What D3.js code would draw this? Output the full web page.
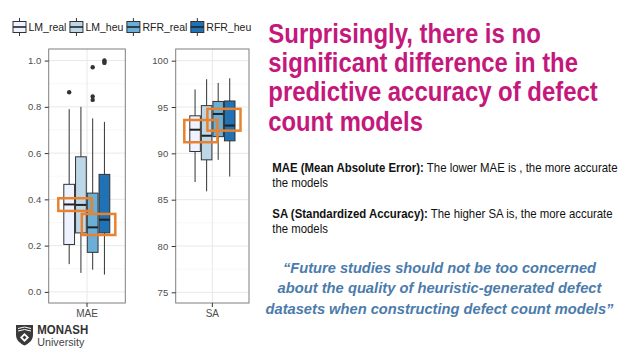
<!DOCTYPE html>
<html>
<head>
<meta charset="utf-8">
<script src="https://cdn.jsdelivr.net/npm/d3@7"></script>
<style>
  html, body { margin: 0; padding: 0; background: #fff; }
  svg { display: block; }
</style>
</head>
<body>
<div id="chart"></div>
<script>
// --- data ---
const models = ["LM_real", "LM_heu", "RFR_real", "RFR_heu"];
const boxColors = ["#eff3ff", "#bdd7e7", "#6baed6", "#2171b5"];

// [lower whisker, q1, median, q3, upper whisker]
const maeStats = [
  [0.12, 0.205, 0.378, 0.465, 0.79],
  [0.082, 0.255, 0.376, 0.584, 0.80],
  [0.096, 0.171, 0.279, 0.427, 0.75],
  [0.075, 0.255, 0.312, 0.508, 0.735]
];
const maeOutliers = [[0.863], [], [0.971, 0.845, 0.83], [1.0, 0.99, 0.995]];
const maeTicks = [0.0, 0.2, 0.4, 0.6, 0.8, 1.0];

const saStats = [
  [86.9, 90.2, 92.55, 94.05, 96.9],
  [85.9, 89.3, 91.9, 95.15, 98.0],
  [89.3, 91.8, 94.25, 95.6, 97.6],
  [87.5, 91.35, 93.0, 95.65, 98.1]
];
const saOutliers = [[], [], [], []];
const saTicks = [75, 80, 85, 90, 95, 100];

// orange highlight boxes: series span + value range
const maeHighlights = [
  { from: "LM_real", to: "LM_heu", lo: 0.35, hi: 0.405 },
  { from: "RFR_real", to: "RFR_heu", lo: 0.246, hi: 0.337 }
];
const saHighlights = [
  { from: "LM_real", to: "LM_heu", lo: 91.2, hi: 93.6 },
  { from: "RFR_real", to: "RFR_heu", lo: 92.45, hi: 94.8 }
];

const titleLines = [
  "Surprisingly, there is no",
  "significant difference in the",
  "predictive accuracy of defect",
  "count models"
];
const quoteLines = [
  "\u201CFuture studies should not be too concerned",
  "about the quality of heuristic-generated defect",
  "datasets when constructing defect count models\u201D"
];

// --- drawing ---
const W = 638, H = 359;
const svg = d3.select("#chart").append("svg")
  .attr("width", W).attr("height", H)
  .style("font-family", "'Liberation Sans', Arial, sans-serif");
svg.append("rect").attr("width", W).attr("height", H).attr("fill", "#fff");

// squeeze a text to a given width (the slide uses a narrow face)
const fit = (sel, w) => {
  const len = sel.node().getComputedTextLength();
  const x = +sel.attr("x");
  sel.attr("transform", `translate(${x},0) scale(${w / len},1) translate(${-x},0)`);
};

const drawPanel = (cfg) => {
  const { left, right, top, bottom, domain, stats, outliers, ticks, label, band, highlights, fmt } = cfg;
  const y = d3.scaleLinear().domain(domain).range([bottom, top]);
  const x = d3.scaleBand().domain(models).range(band);
  const cx = (left + right) / 2;
  const g = svg.append("g");

  // minor grid
  const minor = d3.pairs(ticks).map(([a, b]) => (a + b) / 2);
  g.selectAll(".minor").data(minor).enter().append("line")
    .attr("x1", left).attr("x2", right)
    .attr("y1", d => y(d)).attr("y2", d => y(d))
    .attr("stroke", "#f2f2f2").attr("stroke-width", 0.6);
  g.selectAll(".major").data(ticks).enter().append("line")
    .attr("x1", left).attr("x2", right)
    .attr("y1", d => y(d)).attr("y2", d => y(d))
    .attr("stroke", "#e8e8e8").attr("stroke-width", 1);
  g.append("line").attr("x1", cx).attr("x2", cx).attr("y1", top).attr("y2", bottom)
    .attr("stroke", "#e8e8e8").attr("stroke-width", 1);

  // boxes
  const boxes = g.selectAll(".box").data(stats).enter().append("g");
  boxes.append("line")
    .attr("x1", (d, i) => x(models[i]) + x.bandwidth() / 2)
    .attr("x2", (d, i) => x(models[i]) + x.bandwidth() / 2)
    .attr("y1", d => y(d[0])).attr("y2", d => y(d[4]))
    .attr("stroke", "#333").attr("stroke-width", 1);
  boxes.append("rect")
    .attr("x", (d, i) => x(models[i]) + 0.5)
    .attr("width", x.bandwidth() - 1)
    .attr("y", d => y(d[3]))
    .attr("height", d => y(d[1]) - y(d[3]))
    .attr("fill", (d, i) => boxColors[i])
    .attr("stroke", "#333").attr("stroke-width", 1);
  boxes.append("line")
    .attr("x1", (d, i) => x(models[i]) + 0.5)
    .attr("x2", (d, i) => x(models[i]) + x.bandwidth() - 0.5)
    .attr("y1", d => y(d[2])).attr("y2", d => y(d[2]))
    .attr("stroke", "#222").attr("stroke-width", 2);
  boxes.each(function (d, i) {
    d3.select(this).selectAll("circle").data(outliers[i]).enter().append("circle")
      .attr("cx", x(models[i]) + x.bandwidth() / 2)
      .attr("cy", v => y(v))
      .attr("r", 2.2)
      .attr("fill", "#333");
  });

  // highlight rectangles
  g.selectAll(".hl").data(highlights).enter().append("rect")
    .attr("x", d => x(d.from) - 5)
    .attr("width", d => x(d.to) + x.bandwidth() + 5 - (x(d.from) - 5))
    .attr("y", d => y(d.hi))
    .attr("height", d => y(d.lo) - y(d.hi))
    .attr("fill", "none")
    .attr("stroke", "#e8822f").attr("stroke-width", 2.5);

  // border
  g.append("rect").attr("x", left).attr("y", top)
    .attr("width", right - left).attr("height", bottom - top)
    .attr("fill", "none").attr("stroke", "#7f7f7f").attr("stroke-width", 1);

  // y axis
  const ax = g.append("g").attr("transform", `translate(${left},0)`)
    .call(d3.axisLeft(y).tickValues(ticks).tickSize(4).tickPadding(3.5).tickFormat(fmt));
  ax.select(".domain").remove();
  ax.selectAll("line").attr("stroke", "#333");
  ax.selectAll("text").attr("fill", "#4d4d4d").style("font-size", "9.5px")
    .style("font-family", "'Liberation Sans', Arial, sans-serif");

  // x axis (single category)
  g.append("line").attr("x1", cx).attr("x2", cx).attr("y1", bottom).attr("y2", bottom + 4)
    .attr("stroke", "#333");
  g.append("text").attr("x", cx).attr("y", bottom + 14)
    .attr("text-anchor", "middle").attr("fill", "#4d4d4d")
    .style("font-size", "10px").text(label);
};

drawPanel({
  left: 48.7, right: 125.3, top: 49, bottom: 303,
  domain: [-0.048, 1.05], band: [63.3, 110.3],
  stats: maeStats, outliers: maeOutliers, ticks: maeTicks,
  highlights: maeHighlights, label: "MAE", fmt: d3.format(".1f")
});
drawPanel({
  left: 175.7, right: 249, top: 49, bottom: 303,
  domain: [73.85, 101.26], band: [189.3, 235.5],
  stats: saStats, outliers: saOutliers, ticks: saTicks,
  highlights: saHighlights, label: "SA", fmt: d3.format("d")
});

// legend
const legend = svg.append("g");
let lx = 11;
models.forEach((m, i) => {
  const k = legend.append("g").attr("transform", `translate(${lx},0)`);
  k.append("line").attr("x1", 8.5).attr("x2", 8.5).attr("y1", 18).attr("y2", 36)
    .attr("stroke", "#333");
  k.append("rect").attr("x", 2).attr("y", 21.5).attr("width", 13).attr("height", 11)
    .attr("fill", boxColors[i]).attr("stroke", "#333");
  k.append("line").attr("x1", 2).attr("x2", 15).attr("y1", 27).attr("y2", 27)
    .attr("stroke", "#222").attr("stroke-width", 1.6);
  const t = k.append("text").attr("x", 17.5).attr("y", 30.5)
    .attr("fill", "#222").style("font-size", "10.5px").text(m);
  lx += 17.5 + t.node().getComputedTextLength() + 1.5;
});

// title
const narrow = "'Liberation Sans Narrow', 'Arial Narrow', 'Liberation Sans', Arial, sans-serif";
const titleWidths = [272.7, 309.7, 329.7, 154.7];
titleLines.forEach((line, i) => {
  const t = svg.append("text").attr("x", 268.3).attr("y", 42.7 + i * 29.3)
    .attr("fill", "#c4187c").style("font-family", narrow)
    .style("font-weight", "bold").style("font-size", "28px").text(line);
  fit(t, titleWidths[i]);
});

// explanations
const bodyLines = [
  { bold: "MAE (Mean Absolute Error):", rest: " The lower MAE is , the more accurate", y: 171.7, w: 345.7 },
  { bold: "", rest: "the models", y: 186.7, w: 55.7 },
  { bold: "SA (Standardized Accuracy):", rest: " The higher SA is, the more accurate", y: 218.3, w: 340.7 },
  { bold: "", rest: "the models", y: 233.3, w: 55.7 }
];
bodyLines.forEach(b => {
  const t = svg.append("text").attr("x", 272.3).attr("y", b.y)
    .attr("fill", "#111").style("font-family", narrow).style("font-size", "12.5px");
  if (b.bold) t.append("tspan").style("font-weight", "bold").text(b.bold);
  t.append("tspan").text(b.rest);
  fit(t, b.w);
});

// quote
const quoteWidths = [313.3, 324, 348.3];
quoteLines.forEach((line, i) => {
  const t = svg.append("text").attr("x", 439.5).attr("y", 272.7 + i * 20.65)
    .attr("text-anchor", "middle").attr("fill", "#4b7bab")
    .style("font-family", narrow).style("font-weight", "bold")
    .style("font-style", "italic").style("font-size", "15.5px").text(line);
  fit(t, quoteWidths[i]);
});

// Monash logo
const logo = svg.append("g");
logo.append("path")
  .attr("d", "M16,325 L33,325 L33,335 C33,340 29,343.5 24.5,345.5 C20,343.5 16,340 16,335 Z")
  .attr("fill", "#3a3a3a");
logo.append("path")
  .attr("d", "M18,328.5 L24.5,327 L31,328.5 M18,331 L24.5,329.5 L31,331")
  .attr("fill", "none").attr("stroke", "#fff").attr("stroke-width", 1);
logo.append("path")
  .attr("d", "M24.5,333 L29,337.5 L24.5,342 L20,337.5 Z")
  .attr("fill", "#fff");
logo.append("path")
  .attr("d", "M24.5,335.5 L26.5,337.5 L24.5,339.5 L22.5,337.5 Z")
  .attr("fill", "#3a3a3a");
const mon = logo.append("text").attr("x", 37.3).attr("y", 334.3)
  .attr("fill", "#333").style("font-size", "12px").style("font-weight", "bold").text("MONASH");
fit(mon, 51);
const uni = logo.append("text").attr("x", 37.3).attr("y", 346.5)
  .attr("fill", "#444").style("font-size", "10.5px").text("University");
fit(uni, 47);
</script>
</body>
</html>
